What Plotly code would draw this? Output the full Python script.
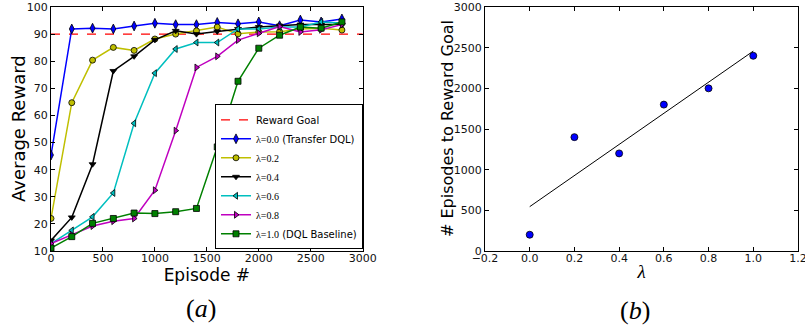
import plotly.graph_objects as go

episodes = [0, 200, 400, 600, 800, 1000, 1200, 1400, 1600, 1800, 2000, 2200, 2400, 2600, 2800]
reward_goal = 90

r_l00 = [45.4, 91.9, 92.2, 91.9, 93.0, 94.0, 93.5, 93.5, 94.3, 93.8, 94.5, 93.1, 95.2, 94.5, 95.6]
r_l02 = [22.0, 64.7, 80.4, 85.1, 84.0, 88.2, 90.0, 91.2, 92.6, 90.1, 90.8, 90.9, 91.9, 92.2, 91.5]
r_l04 = [13.9, 22.4, 42.0, 76.4, 81.8, 87.9, 91.2, 90.0, 91.0, 91.9, 92.6, 93.1, 93.5, 93.5, 93.5]
r_l06 = [12.7, 17.6, 22.6, 31.4, 57.1, 75.6, 84.5, 86.9, 86.9, 91.9, 91.9, 92.6, 92.6, 94.5, 94.1]
r_l08 = [12.7, 16.0, 19.2, 21.0, 22.0, 32.4, 54.4, 77.7, 81.8, 87.8, 90.3, 92.8, 90.8, 91.6, 93.5]
r_l10 = [11.1, 15.3, 20.2, 22.0, 24.0, 23.8, 24.5, 25.7, 48.4, 72.6, 84.8, 89.6, 92.6, 92.2, 94.5]

series_names = ["λ=0.0", "λ=0.2", "λ=0.4", "λ=0.6", "λ=0.8", "λ=1.0"]
series_suffix = [" (Transfer DQL)", "", "", "", "", " (DQL Baseline)"]

lambdas = [0.0, 0.2, 0.4, 0.6, 0.8, 1.0]
episodes_to_goal = [200, 1400, 1200, 1800, 2000, 2400]
fit_x = [0.0, 1.0]
fit_y = [545, 2458]

x1_ticks = [0, 500, 1000, 1500, 2000, 2500, 3000]
y1_ticks = [10, 20, 30, 40, 50, 60, 70, 80, 90, 100]
x2_ticks = [-0.2, 0.0, 0.2, 0.4, 0.6, 0.8, 1.0, 1.2]
y2_ticks = [0, 500, 1000, 1500, 2000, 2500, 3000]

colors = ["#0000ff", "#bfbf00", "#000000", "#00bfbf", "#bf00bf", "#008000"]
symbols = ["diamond-tall", "circle", "triangle-down", "triangle-left", "triangle-right", "square"]

SANS = "DejaVu Sans"
SERIF = "Liberation Serif"

W, H = 805, 327
ML, MR, MT, MB = 51, 7, 7, 76
PW = W - ML - MR
PH = H - MT - MB


def px_x(p):
    return (p - ML) / PW


def px_y(p):
    return (H - MB - p) / PH


fig = go.Figure()

fig.add_trace(go.Scatter(
    x=[x1_ticks[0], x1_ticks[-1]], y=[reward_goal, reward_goal], mode="lines",
    line=dict(color="#ff0000", width=1.3, dash="dash"), name="Reward Goal",
    xaxis="x", yaxis="y"))

all_r = [r_l00, r_l02, r_l04, r_l06, r_l08, r_l10]
for i, r in enumerate(all_r):
    nm = "<span style='font-family:%s'>%s</span>%s" % (SERIF, series_names[i], series_suffix[i])
    fig.add_trace(go.Scatter(
        x=episodes, y=r, mode="lines+markers", name=nm,
        line=dict(color=colors[i], width=1.5),
        marker=dict(symbol=symbols[i], size=6 if i != 0 else 7, color=colors[i],
                    line=dict(color="black", width=0.8)),
        xaxis="x", yaxis="y"))

fig.add_trace(go.Scatter(
    x=fit_x, y=fit_y, mode="lines", line=dict(color="black", width=1),
    showlegend=False, xaxis="x2", yaxis="y2"))
fig.add_trace(go.Scatter(
    x=lambdas, y=episodes_to_goal, mode="markers",
    marker=dict(symbol="circle", size=7, color="#0000ff", line=dict(color="black", width=0.8)),
    showlegend=False, xaxis="x2", yaxis="y2"))

axis_common = dict(showline=True, linecolor="black", linewidth=1, mirror="ticks",
                   ticks="inside", ticklen=4, tickcolor="black", showgrid=False,
                   zeroline=False, automargin=False, ticklabeloverflow="allow",
                   tickfont=dict(family=SANS, size=11, color="#111"))

fig.update_layout(
    width=W, height=H, margin=dict(l=ML, r=MR, t=MT, b=MB, pad=0),
    paper_bgcolor="white", plot_bgcolor="white",
    xaxis=dict(domain=[0, px_x(362.7)], range=[0, 3000.01], tickvals=x1_ticks,
               ticklabelstandoff=-3,
               title=dict(text="Episode #", font=dict(family=SANS, size=17, color="black"), standoff=0),
               anchor="y", **axis_common),
    yaxis=dict(domain=[0, 1], range=[10, 100], tickvals=y1_ticks,
               anchor="x", **axis_common),
    xaxis2=dict(domain=[px_x(485), 1], range=[-0.2, 1.2001], tickvals=x2_ticks, tickformat=".1f",
                ticklabelstandoff=-3,
                title=dict(text="<i>λ</i>", font=dict(family=SERIF, size=19, color="black"), standoff=0),
                anchor="y2", **axis_common),
    yaxis2=dict(domain=[0, 1], range=[0, 3000], tickvals=y2_ticks,
                anchor="x2", **axis_common),
    legend=dict(x=px_x(215), y=px_y(249.3), xanchor="left", yanchor="bottom",
                bordercolor="black", borderwidth=1, bgcolor="white",
                font=dict(family=SANS, size=10, color="black"), tracegroupgap=0,
                itemwidth=30),
    showlegend=True,
    annotations=[
        dict(text="Average Reward", x=px_x(18), y=0.5, xref="paper", yref="paper",
             xanchor="center", yanchor="middle", textangle=-90,
             showarrow=False, font=dict(family=SANS, size=18, color="black")),
        dict(text="# Episodes to Reward Goal", x=px_x(447), y=0.5, xref="paper", yref="paper",
             xanchor="center", yanchor="middle", textangle=-90,
             showarrow=False, font=dict(family=SANS, size=16, color="black")),
        dict(text="(<i>a</i>)", x=px_x(201), y=px_y(308), xref="paper", yref="paper",
             xanchor="center", yanchor="middle",
             showarrow=False, font=dict(family=SERIF, size=26, color="black")),
        dict(text="(<i>b</i>)", x=px_x(635), y=px_y(310), xref="paper", yref="paper",
             xanchor="center", yanchor="middle",
             showarrow=False, font=dict(family=SERIF, size=26, color="black")),
    ],
)

fig.write_html("out.html", config={"displayModeBar": False},
               post_script="document.body.style.margin='0px';")
